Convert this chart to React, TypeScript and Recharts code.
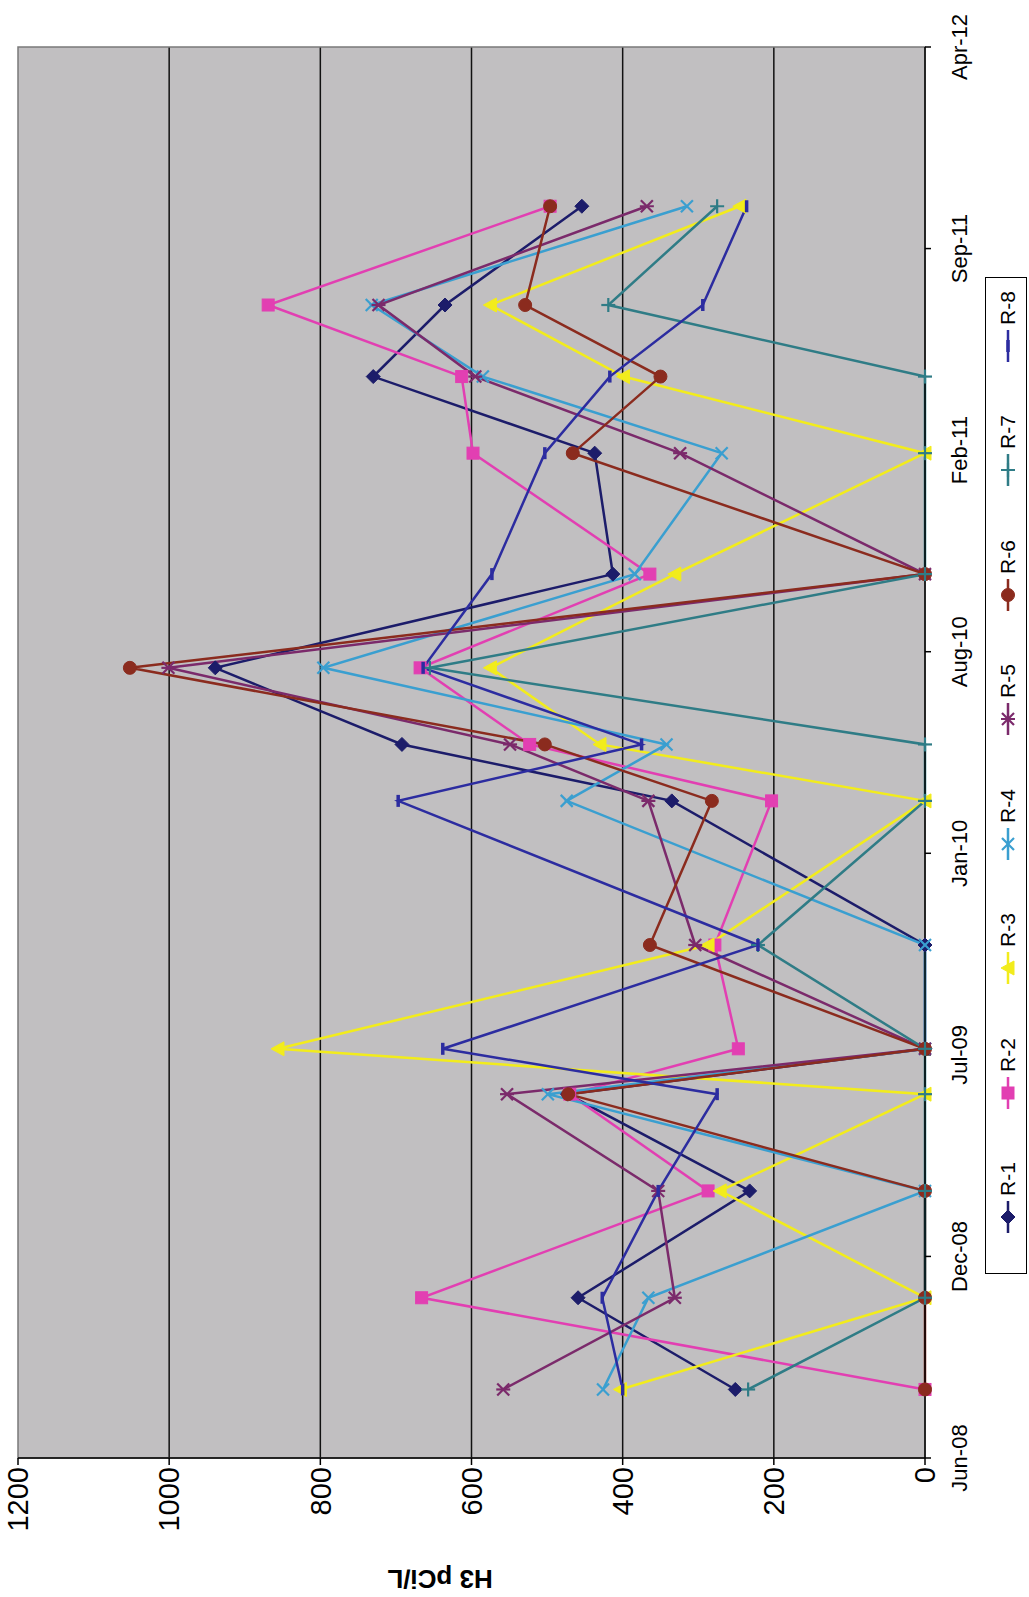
import React from 'react';
import { LineChart, Line, XAxis, YAxis, CartesianGrid, ReferenceArea } from 'recharts';

// Excel date serials of the sampling dates
const sampleDates = [39668, 39759, 39865, 39961, 40006, 40109, 40252, 40308, 40384, 40477, 40597, 40673, 40744, 40842];

const r1 = [251, 459, 232, 473, 0, 0, 335, 692, 939, 413, 437, 730, 635, 454];
const r2 = [0, 666, 287, 470, 247, 278, 203, 523, 668, 364, 598, 613, 869, 496];
const r3 = [403, 0, 271, 0, 856, 287, 0, 430, 575, 331, 0, 399, 575, 245];
const r4 = [426, 366, 0, 499, 0, 0, 474, 342, 796, 384, 269, 585, 732, 315];
const r5 = [558, 331, 353, 553, 0, 304, 366, 549, 1001, 0, 324, 595, 723, 368];
const r6 = [0, 0, 0, 472, 0, 364, 282, 503, 1052, 0, 466, 350, 529, 496];
const r7 = [234, 0, 0, 0, 0, 221, 0, 0, 655, 0, 0, 0, 419, 275];
const r8 = [400, 427, 353, 275, 638, 221, 697, 375, 664, 573, 503, 417, 294, 236];

const dateTicks = [39600, 39800, 40000, 40200, 40400, 40600, 40800, 41000];
const valueTicks = [0, 200, 400, 600, 800, 1000, 1200];
const gridValues = [200, 400, 600, 800, 1000];

const seriesNames = ['R-1', 'R-2', 'R-3', 'R-4', 'R-5', 'R-6', 'R-7', 'R-8'];
const seriesKeys = ['r1', 'r2', 'r3', 'r4', 'r5', 'r6', 'r7', 'r8'];
const seriesColors = ['#1c1c6a', '#e23fb2', '#f2ec1c', '#3a9fd0', '#7b2a6b', '#8b2b1e', '#2f7c86', '#2c2ca0'];
const seriesShapes = ['diamond', 'square', 'triangle', 'x', 'star', 'circle', 'plus', 'dash'];
const seriesValues = [r1, r2, r3, r4, r5, r6, r7, r8];

const data = sampleDates.map((d, i) => {
  const row: Record<string, number> = { d };
  seriesKeys.forEach((k, j) => {
    row[k] = seriesValues[j][i];
  });
  return row;
});

const MONTHS = ['Jan', 'Feb', 'Mar', 'Apr', 'May', 'Jun', 'Jul', 'Aug', 'Sep', 'Oct', 'Nov', 'Dec'];
function fmtDate(serial: number): string {
  const dt = new Date(Date.UTC(1899, 11, 30) + serial * 86400000);
  return `${MONTHS[dt.getUTCMonth()]}-${String(dt.getUTCFullYear() % 100).padStart(2, '0')}`;
}

const FONT = "'Liberation Sans', Arial, Helvetica, sans-serif";

function markerShape(shape: string, color: string, cx: number, cy: number, key?: string) {
  switch (shape) {
    case 'diamond':
      return <path key={key} d={`M${cx},${cy - 7} L${cx + 7},${cy} L${cx},${cy + 7} L${cx - 7},${cy} Z`} fill={color} stroke={color} />;
    case 'square':
      return <rect key={key} x={cx - 6} y={cy - 6} width={12} height={12} fill={color} stroke={color} />;
    case 'triangle':
      return <path key={key} d={`M${cx},${cy - 7} L${cx + 7},${cy + 6} L${cx - 7},${cy + 6} Z`} fill={color} stroke={color} />;
    case 'x':
      return (
        <g key={key} stroke={color} strokeWidth={2.2}>
          <line x1={cx - 6} y1={cy - 6} x2={cx + 6} y2={cy + 6} />
          <line x1={cx - 6} y1={cy + 6} x2={cx + 6} y2={cy - 6} />
        </g>
      );
    case 'star':
      return (
        <g key={key} stroke={color} strokeWidth={2.2}>
          <line x1={cx - 6} y1={cy - 6} x2={cx + 6} y2={cy + 6} />
          <line x1={cx - 6} y1={cy + 6} x2={cx + 6} y2={cy - 6} />
          <line x1={cx} y1={cy - 7} x2={cx} y2={cy + 7} />
        </g>
      );
    case 'circle':
      return <circle key={key} cx={cx} cy={cy} r={6.5} fill={color} stroke={color} />;
    case 'plus':
      return (
        <g key={key} stroke={color} strokeWidth={2.2}>
          <line x1={cx - 7} y1={cy} x2={cx + 7} y2={cy} />
          <line x1={cx} y1={cy - 7} x2={cx} y2={cy + 7} />
        </g>
      );
    case 'dash':
    default:
      return <line key={key} x1={cx - 6} y1={cy} x2={cx + 6} y2={cy} stroke={color} strokeWidth={3.5} />;
  }
}

const makeDot = (shape: string, color: string, name: string) => (p: any) => {
  const { cx, cy, index } = p;
  const key = `${name}-dot-${index}`;
  if (cx == null || cy == null) return <g key={key} />;
  return markerShape(shape, color, cx, cy, key);
};

const W = 1597;
const H = 1029;

const legendCenters = [380, 504, 629, 753, 878, 1002, 1127, 1251];

export default function App() {
  return (
    <div style={{ position: 'absolute', left: 0, top: 0, width: 1029, height: 1597, overflow: 'hidden', background: '#ffffff' }}>
      <div
        style={{
          position: 'absolute',
          left: 0,
          top: 0,
          width: W,
          height: H,
          transformOrigin: '0 0',
          transform: `translate(0px, ${W}px) rotate(-90deg)`,
        }}
      >
        <LineChart width={W} height={H} data={data} margin={{ top: 18, right: 47, bottom: 44, left: 0 }}>
          <CartesianGrid
            horizontal
            vertical={false}
            horizontalValues={gridValues}
            stroke="#111"
            strokeWidth={1.5}
            fill="#c1bfc1"
          />
          <ReferenceArea x1={39600} x2={41000} y1={0} y2={1200} fill="none" stroke="#7a7a7a" strokeWidth={1.5} ifOverflow="visible" />
          <XAxis
            type="number"
            dataKey="d"
            domain={[39600, 41000]}
            ticks={dateTicks}
            interval={0}
            tickFormatter={fmtDate}
            allowDataOverflow
            height={60}
            stroke="#000"
            strokeWidth={1.5}
            tickSize={6}
            tickMargin={20}
            tick={{ fill: '#000', fontSize: 22, fontFamily: FONT }}
          />
          <YAxis
            type="number"
            domain={[0, 1200]}
            ticks={valueTicks}
            interval={0}
            width={139}
            stroke="#000"
            strokeWidth={1.5}
            tickSize={7}
            tickMargin={2}
            tick={{ fill: '#000', fontSize: 29, fontFamily: FONT }}
            label={() => (
              <text
                x={18}
                y={440}
                transform="rotate(-90, 18, 440)"
                textAnchor="middle"
                dominantBaseline="central"
                fontSize={26}
                fontWeight="bold"
                fontFamily={FONT}
                fill="#000"
              >
                H3 pCi/L
              </text>
            )}
          />
          {seriesKeys.map((k, i) => (
            <Line
              key={k}
              type="linear"
              dataKey={k}
              name={seriesNames[i]}
              stroke={seriesColors[i]}
              strokeWidth={2.5}
              dot={makeDot(seriesShapes[i], seriesColors[i], seriesNames[i])}
              activeDot={false}
              isAnimationActive={false}
            />
          ))}
        </LineChart>
        {/* legend */}
        <div
          style={{
            position: 'absolute',
            left: 323,
            top: 985,
            width: 997,
            height: 42,
            border: '1.5px solid #000',
            boxSizing: 'border-box',
            background: '#fff',
          }}
        />
        {seriesNames.map((n, i) => (
          <div
            key={n}
            style={{
              position: 'absolute',
              left: legendCenters[i] - 16,
              top: 997,
              height: 22,
              display: 'flex',
              alignItems: 'center',
              fontFamily: FONT,
              fontSize: 21,
              color: '#000',
              whiteSpace: 'nowrap',
            }}
          >
            <svg width={32} height={20} style={{ display: 'block' }}>
              <line x1={0} y1={10} x2={32} y2={10} stroke={seriesColors[i]} strokeWidth={2.5} />
              {markerShape(seriesShapes[i], seriesColors[i], 16, 10)}
            </svg>
            <span style={{ marginLeft: 5 }}>{n}</span>
          </div>
        ))}
      </div>
    </div>
  );
}
